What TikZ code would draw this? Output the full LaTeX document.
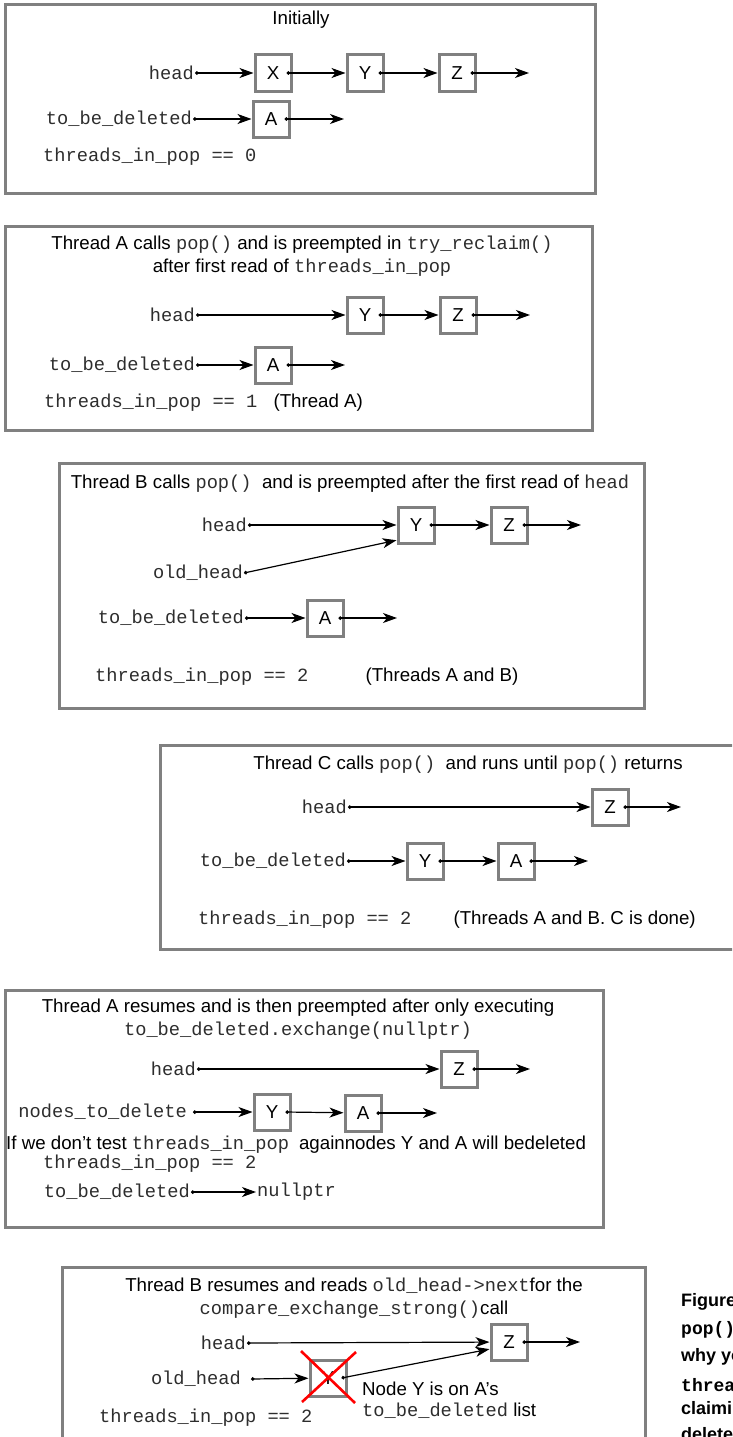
\documentclass[tikz,border=0pt]{standalone}
\usepackage{fontspec}
\setmainfont{Liberation Sans}
\setmonofont{Liberation Mono}
\usetikzlibrary{arrows.meta}
\definecolor{boxgray}{RGB}{128,128,128}
\definecolor{codegray}{RGB}{45,45,45}

\begin{document}
\begin{tikzpicture}[x=1pt,y=1pt,
  every node/.style={font=\fontsize{18.7}{23}\selectfont},
  frame/.style={draw=boxgray,line width=3pt},
  cell/.style={draw=boxgray,line width=3pt,minimum size=36pt,inner sep=0pt},
  code/.style={font=\fontsize{18.7}{23}\selectfont\ttfamily,text=codegray,inner sep=1pt},
  ptr/.style={{Circle[length=3.5pt]}-{Stealth[length=14pt,width=10pt,inset=4pt]},line width=1.2pt},
  cross/.style={red,line width=2.6pt},
  capt/.style={right,inner sep=0pt,font=\fontsize{18}{21}\selectfont\bfseries}]
\useasboundingbox (0,0) rectangle (732,-1437);
\clip (0,0) rectangle (732,-1437);

\draw[frame] (5,-5) rectangle (595,-193);
\node (t1) at (301,-20) {Initially};
\node[code,left] (head1) at (195,-73) {head};
\node[cell] (x1) at (273,-73) {X};
\node[cell] (y1) at (365,-73) {Y};
\node[cell] (z1) at (457,-73) {Z};
\coordinate (e1) at (529,-73);
\draw[ptr] (head1.east) -- (x1);
\draw[ptr] ([xshift=-6pt]x1.east) -- (y1);
\draw[ptr] ([xshift=-6pt]y1.east) -- (z1);
\draw[ptr] ([xshift=-6pt]z1.east) -- (e1);
\node[code,left] (tbd1) at (193,-119) {to\_be\_deleted};
\node[cell] (a1) at (271,-119) {A};
\coordinate (f1) at (344,-119);
\draw[ptr] (tbd1.east) -- (a1);
\draw[ptr] ([xshift=-6pt]a1.east) -- (f1);
\node[code,right] (tip1) at (42,-157) {threads\_in\_pop == 0};

\draw[frame] (5,-226) rectangle (592,-430);
\node[align=center] (t2) at (302,-256) {Thread A calls \texttt{\color{codegray}pop()} and is preempted in \texttt{\color{codegray}try\_reclaim()}\\after first read of \texttt{\color{codegray}threads\_in\_pop}};
\node[code,left] (head2) at (196,-315) {head};
\node[cell] (y2) at (365,-315) {Y};
\node[cell] (z2) at (458,-315) {Z};
\coordinate (e2) at (530,-315);
\draw[ptr] (head2.east) -- (y2);
\draw[ptr] ([xshift=-6pt]y2.east) -- (z2);
\draw[ptr] ([xshift=-6pt]z2.east) -- (e2);
\node[code,left] (tbd2) at (196,-365) {to\_be\_deleted};
\node[cell] (a2) at (273,-365) {A};
\coordinate (f2) at (345,-365);
\draw[ptr] (tbd2.east) -- (a2);
\draw[ptr] ([xshift=-6pt]a2.east) -- (f2);
\node[code,right] (tip2) at (43,-403) {threads\_in\_pop == 1};
\node[right] (who2) at (270,-403) {(Thread A)};

\draw[frame] (59,-463) rectangle (644,-708);
\node (t3) at (350,-484) {Thread B calls \texttt{\color{codegray}pop()}\ \ and is preempted after the first read of \texttt{\color{codegray}head}};
\node[code,left] (head3) at (248,-525) {head};
\node[cell] (y3) at (416,-525) {Y};
\node[cell] (z3) at (509,-525) {Z};
\coordinate (e3) at (581,-525);
\draw[ptr] (head3.east) -- (y3);
\draw[ptr] ([xshift=-6pt]y3.east) -- (z3);
\draw[ptr] ([xshift=-6pt]z3.east) -- (e3);
\node[code,left] (old3) at (244,-573) {old\_head};
\draw[ptr] (old3.east) -- (y3.218);
\node[code,left] (tbd3) at (245,-618) {to\_be\_deleted};
\node[cell] (a3) at (325,-618) {A};
\coordinate (f3) at (397,-618);
\draw[ptr] (tbd3.east) -- (a3);
\draw[ptr] ([xshift=-6pt]a3.east) -- (f3);
\node[code,right] (tip3) at (94,-677) {threads\_in\_pop == 2};
\node[right] (who3) at (362,-677) {(Threads A and B)};

\draw[frame] (160,-745) rectangle (745,-949);
\node (t4) at (468,-765) {Thread C calls \texttt{\color{codegray}pop()}\ \ and runs until \texttt{\color{codegray}pop()} returns};
\node[code,left] (head4) at (348,-807) {head};
\node[cell] (z4) at (610,-807) {Z};
\coordinate (e4) at (681,-807);
\draw[ptr] (head4.east) -- (z4);
\draw[ptr] ([xshift=-6pt]z4.east) -- (e4);
\node[code,left] (tbd4) at (347,-861) {to\_be\_deleted};
\node[cell] (y4) at (425,-861) {Y};
\node[cell] (a4) at (516,-861) {A};
\coordinate (f4) at (588,-861);
\draw[ptr] (tbd4.east) -- (y4);
\draw[ptr] ([xshift=-6pt]y4.east) -- (a4);
\draw[ptr] ([xshift=-6pt]a4.east) -- (f4);
\node[code,right] (tip4) at (197,-920) {threads\_in\_pop == 2};
\node[right] (who4) at (450,-920) {(Threads A and B. C is done)};

\draw[frame] (5,-990) rectangle (603,-1227);
\node[align=center] (t5) at (298,-1019) {Thread A resumes and is then preempted after only executing\\\texttt{\color{codegray}to\_be\_deleted.exchange(nullptr)}};
\node[code,left] (head5) at (197,-1069) {head};
\node[cell] (z5) at (459,-1069) {Z};
\coordinate (e5) at (530,-1069);
\draw[ptr] (head5.east) -- (z5);
\draw[ptr] ([xshift=-6pt]z5.east) -- (e5);
\node[code,left] (ntd5) at (188,-1112) {nodes\_to\_delete};
\node[cell] (y5) at (272,-1112) {Y};
\node[cell] (a5) at (363,-1113) {A};
\coordinate (f5) at (437,-1113);
\draw[ptr] ([xshift=5pt]ntd5.east) -- (y5);
\draw[ptr] ([xshift=-6pt]y5.east) -- (a5);
\draw[ptr] ([xshift=-6pt]a5.east) -- (f5);
\node[right,inner sep=1pt] (warn5) at (5,-1145) {If we don't test \texttt{\color{codegray}threads\_in\_pop}\hspace{10pt}againnodes Y and A will bedeleted};
\node[code,right] (tip5) at (42,-1164) {threads\_in\_pop == 2};
\node[code,left] (tbd5) at (191,-1192) {to\_be\_deleted};
\node[code,right] (null5) at (256,-1192) {nullptr};
\draw[ptr] (tbd5.east) -- (null5.west);

\draw[frame] (62,-1267) rectangle (645,-1450);
\node[align=center] (t6) at (354,-1298) {Thread B resumes and reads \texttt{\color{codegray}old\_head->next}for the\\\texttt{\color{codegray}compare\_exchange\_strong()}call};
\node[code,left] (head6) at (247,-1343) {head};
\node[cell] (z6) at (509,-1342) {Z};
\coordinate (e6) at (580,-1342);
\draw[ptr] (head6.east) -- (z6);
\draw[ptr] ([xshift=-6pt]z6.east) -- (e6);
\node[code,left] (old6) at (242,-1379) {old\_head};
\node[cell] (y6) at (328,-1378) {Y};
\draw[ptr] ([xshift=9pt]old6.east) -- (y6);
\draw[ptr] ([xshift=-6pt]y6.east) -- (z6.200);
\draw[cross] ([shift={(-27,27)}]y6.center) -- ([shift={(27,-25)}]y6.center);
\draw[cross] ([shift={(28,26)}]y6.center) -- ([shift={(-26,-24)}]y6.center);
\node[right,inner sep=1pt] (note6) at (361,-1389) {Node Y is on A's};
\node[right,inner sep=1pt] (note6b) at (361,-1411) {\texttt{\color{codegray}to\_be\_deleted} list};
\node[code,right] (tip6) at (98,-1418) {threads\_in\_pop == 2};

\node[capt] (cap1) at (681,-1302) {Figure};
\node[capt,font=\fontsize{18}{21}\selectfont\ttfamily\bfseries] (cap2) at (681,-1330) {pop()};
\node[capt] (cap3) at (681,-1357) {why you};
\node[capt,font=\fontsize{18}{21}\selectfont\ttfamily\bfseries] (cap4) at (681,-1385) {threads};
\node[capt] (cap5) at (681,-1410) {claiming};
\node[capt] (cap6) at (681,-1434) {deleted};
\end{tikzpicture}
\end{document}
